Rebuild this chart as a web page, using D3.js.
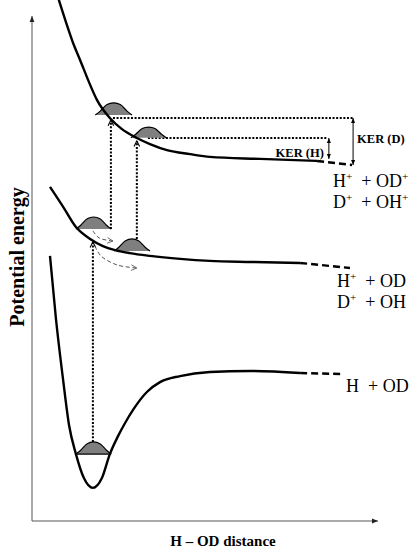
<!DOCTYPE html>
<html>
<head>
<meta charset="utf-8">
<script src="https://cdn.jsdelivr.net/npm/d3@7"></script>
<style>
  body { margin: 0; background: #fff; }
  svg { display: block; }
</style>
</head>
<body>
<div id="plot-area"><svg></svg></div>
<script>
// potential curves: [distance, energy] in arbitrary units
const groundState = [
    [0.52, 10.50], [0.69, 8.04], [0.90, 5.58], [1.07, 3.80], [1.27, 2.65],
    [1.50, 1.70], [1.76, 1.31], [2.02, 1.70], [2.25, 2.65], [2.49, 3.37],
    [2.69, 3.88], [2.92, 4.40], [3.32, 5.11], [3.70, 5.50], [4.28, 5.74],
    [5.14, 5.90], [6.30, 5.94], [7.75, 5.86]
];
const groundTail = [[7.75, 5.86], [8.99, 5.82]];

const cationState = [
    [0.52, 13.23], [0.90, 12.44], [1.27, 11.64], [1.68, 11.17], [2.05, 10.89],
    [2.40, 10.73], [2.83, 10.61], [3.41, 10.50], [4.28, 10.38], [5.14, 10.30],
    [6.30, 10.26], [7.75, 10.22]
];
const cationTail = [[7.75, 10.22], [9.19, 10.02]];

const dicationState = [
    [0.75, 20.75], [1.01, 19.64], [1.21, 18.85], [1.39, 18.26], [1.62, 17.47],
    [1.88, 16.67], [2.25, 15.96], [2.60, 15.52], [3.03, 15.17], [3.41, 14.93],
    [3.90, 14.69], [4.57, 14.53], [5.14, 14.42], [6.59, 14.34], [8.24, 14.26]
];
const dicationTail = [[8.24, 14.26], [9.25, 14.10]];

// wave packets: centre distance, half width, base energy, height
const packets = [
    {cx: 1.78, hw: 0.51, base: 2.65, h: 0.48, ground: true},
    {cx: 1.78, hw: 0.51, base: 11.56, h: 0.48},
    {cx: 2.89, hw: 0.52, base: 10.69, h: 0.48},
    {cx: 2.36, hw: 0.53, base: 16.08, h: 0.48},
    {cx: 3.37, hw: 0.51, base: 15.18, h: 0.42}
];
const packetProfile = [[-1, 0], [-0.73, 0.32], [-0.36, 0.86], [0, 1], [0.36, 0.86], [0.73, 0.32], [1, 0]];

// vertical transitions (dotted, arrow at the top)
const transitions = [
    {x: 1.76, from: 3.13, to: 11.05},
    {x: 2.28, from: 11.56, to: 15.88},
    {x: 3.03, from: 11.17, to: 15.05}
];
// horizontal dotted levels
const levels = [
    {y: 15.96, from: 2.34, to: 9.28},
    {y: 15.17, from: 3.35, to: 8.55}
];
// kinetic energy release arrows
const kerArrows = [
    {name: 'KER (H)', x: 8.58, top: 15.17, bottom: 14.34},
    {name: 'KER (D)', x: 9.28, top: 15.96, bottom: 14.10}
];
// gray dashed wave packet motion
const motions = [
    [[1.76, 11.49], [1.94, 11.21], [2.34, 11.09]],
    [[1.82, 10.89], [1.99, 10.50], [2.46, 10.14], [3.03, 10.02]]
];

const dicationLabels = ['H^+  + OD^+', 'D^+  + OH^+'];
const cationLabels = ['H^+  + OD', 'D^+  + OH'];
const groundLabels = ['H  + OD'];

const serif = '"Liberation Serif", "Times New Roman", serif';

let svg = d3.select('#plot-area').select('svg')
    .attr('width', 413)
    .attr('height', 554);

let x = d3.scaleLinear().domain([0, 10]).range([32, 378]);
let y = d3.scaleLinear().domain([0, 20]).range([521, 16]);

const line = d3.line()
    .x(function (d) { return x(d[0]); })
    .y(function (d) { return y(d[1]); });

// markers
let defs = svg.append('defs');
defs.append('marker').attr('id', 'axisHead')
    .attr('viewBox', '0 0 10 10').attr('refX', 10).attr('refY', 5)
    .attr('markerUnits', 'userSpaceOnUse')
    .attr('markerWidth', 7).attr('markerHeight', 6).attr('orient', 'auto')
    .append('path').attr('d', 'M0,1L10,5L0,9Z').attr('fill', '#222');
defs.append('marker').attr('id', 'kerHead')
    .attr('viewBox', '0 0 10 10').attr('refX', 10).attr('refY', 5)
    .attr('markerUnits', 'userSpaceOnUse')
    .attr('markerWidth', 6).attr('markerHeight', 5).attr('orient', 'auto-start-reverse')
    .append('path').attr('d', 'M0,1L10,5L0,9Z').attr('fill', '#000');
defs.append('marker').attr('id', 'chev')
    .attr('viewBox', '0 0 10 10').attr('refX', 9).attr('refY', 5)
    .attr('markerUnits', 'userSpaceOnUse')
    .attr('markerWidth', 7).attr('markerHeight', 8).attr('orient', 'auto')
    .append('path').attr('d', 'M1,1L9,5L1,9').attr('fill', 'none')
    .attr('stroke', '#000').attr('stroke-width', 1.6);
defs.append('marker').attr('id', 'grayChev')
    .attr('viewBox', '0 0 10 10').attr('refX', 9).attr('refY', 5)
    .attr('markerUnits', 'userSpaceOnUse')
    .attr('markerWidth', 7).attr('markerHeight', 7).attr('orient', 'auto')
    .append('path').attr('d', 'M1,1L9,5L1,9').attr('fill', 'none')
    .attr('stroke', '#555').attr('stroke-width', 1.2);

// axes
svg.append('line')
    .attr('x1', x(0)).attr('y1', y(0)).attr('x2', x(0)).attr('y2', y(20))
    .attr('stroke', '#555').attr('stroke-width', 1)
    .attr('marker-end', 'url(#axisHead)');
svg.append('line')
    .attr('x1', x(0)).attr('y1', y(0)).attr('x2', x(10)).attr('y2', y(0))
    .attr('stroke', '#555').attr('stroke-width', 1)
    .attr('marker-end', 'url(#axisHead)');

// dotted levels and transitions
svg.selectAll('.level')
    .data(levels)
    .enter().append('line')
    .attr('class', 'level')
    .attr('x1', function (d) { return x(d.from); })
    .attr('x2', function (d) { return x(d.to); })
    .attr('y1', function (d) { return y(d.y); })
    .attr('y2', function (d) { return y(d.y); })
    .attr('stroke', '#000').attr('stroke-width', 2)
    .attr('stroke-dasharray', '2,1.6');

svg.selectAll('.transition')
    .data(transitions)
    .enter().append('line')
    .attr('class', 'transition')
    .attr('x1', function (d) { return x(d.x); })
    .attr('x2', function (d) { return x(d.x); })
    .attr('y1', function (d) { return y(d.from); })
    .attr('y2', function (d) { return y(d.to); })
    .attr('stroke', '#000').attr('stroke-width', 2)
    .attr('stroke-dasharray', '2,1.6')
    .attr('marker-end', 'url(#chev)');

// wave packets
const packetLine = d3.line()
    .x(function (d) { return d[0]; })
    .y(function (d) { return d[1]; })
    .curve(d3.curveCatmullRom);

packets.forEach(function (p) {
    const pts = packetProfile.map(function (q) {
        return [x(p.cx + q[0] * p.hw), y(p.base + q[1] * p.h)];
    });
    svg.append('path')
        .attr('d', packetLine(pts) + 'Z')
        .attr('fill', '#7f7f7f')
        .attr('stroke', 'none');
    svg.append('path')
        .attr('d', packetLine(pts))
        .attr('fill', 'none')
        .attr('stroke', '#000')
        .attr('stroke-width', 1.2);
    if (p.ground) {
        svg.append('line')
            .attr('x1', pts[0][0]).attr('x2', pts[pts.length - 1][0])
            .attr('y1', pts[0][1]).attr('y2', pts[0][1])
            .attr('stroke', '#000').attr('stroke-width', 1.2);
    }
});

// potential curves
const smooth = d3.line()
    .x(function (d) { return x(d[0]); })
    .y(function (d) { return y(d[1]); })
    .curve(d3.curveMonotoneX);

[groundState, cationState, dicationState].forEach(function (c) {
    svg.append('path')
        .datum(c)
        .attr('d', smooth)
        .attr('fill', 'none')
        .attr('stroke', '#000')
        .attr('stroke-width', 2.4);
});
[groundTail, cationTail, dicationTail].forEach(function (c) {
    svg.append('path')
        .datum(c)
        .attr('d', line)
        .attr('fill', 'none')
        .attr('stroke', '#000')
        .attr('stroke-width', 2.4)
        .attr('stroke-dasharray', '7,4');
});

// gray dashed packet motion
motions.forEach(function (m) {
    svg.append('path')
        .datum(m)
        .attr('d', line.curve(d3.curveCatmullRom))
        .attr('fill', 'none')
        .attr('stroke', '#555')
        .attr('stroke-width', 1)
        .attr('stroke-dasharray', '4,2.5')
        .attr('marker-end', 'url(#grayChev)');
});
line.curve(d3.curveLinear);

// KER arrows
svg.selectAll('.ker')
    .data(kerArrows)
    .enter().append('line')
    .attr('class', 'ker')
    .attr('x1', function (d) { return x(d.x); })
    .attr('x2', function (d) { return x(d.x); })
    .attr('y1', function (d) { return y(d.top); })
    .attr('y2', function (d) { return y(d.bottom); })
    .attr('stroke', '#000').attr('stroke-width', 1)
    .attr('marker-start', 'url(#kerHead)')
    .attr('marker-end', 'url(#kerHead)');

svg.append('text')
    .attr('x', x(kerArrows[0].x) - 5)
    .attr('y', y(kerArrows[0].bottom) - 2)
    .attr('text-anchor', 'end')
    .attr('font-family', serif).attr('font-weight', 'bold').attr('font-size', '12.5px')
    .text(kerArrows[0].name);
svg.append('text')
    .attr('x', x(kerArrows[1].x) + 4)
    .attr('y', y(kerArrows[1].top) + 25)
    .attr('text-anchor', 'start')
    .attr('font-family', serif).attr('font-weight', 'bold').attr('font-size', '12.5px')
    .text(kerArrows[1].name);

// fragment labels with superscripts
function richText(xp, yp, str, fs) {
    let t = svg.append('text')
        .attr('x', xp).attr('y', yp)
        .attr('font-family', serif).attr('font-size', fs + 'px')
        .attr('xml:space', 'preserve')
        .style('white-space', 'pre');
    let shifted = false;
    str.split(/(\^.)/).filter(function (s) { return s.length; }).forEach(function (s) {
        if (s[0] === '^') {
            t.append('tspan').text(s.slice(1))
                .attr('font-size', (fs * 0.62) + 'px')
                .attr('dy', -0.38 * fs);
            shifted = true;
        } else {
            let ts = t.append('tspan').text(s);
            if (shifted) { ts.attr('dy', 0.38 * fs); shifted = false; }
        }
    });
}

const dEnd = dicationTail[1], cEnd = cationTail[1], gEnd = groundTail[1];
dicationLabels.forEach(function (s, i) {
    richText(x(dEnd[0]) - 19, y(dEnd[1]) + 22 + i * 21, s, 18);
});
cationLabels.forEach(function (s, i) {
    richText(x(cEnd[0]) - 13, y(cEnd[1]) + 19 + i * 21, s, 18);
});
groundLabels.forEach(function (s, i) {
    richText(x(gEnd[0]) + 3, y(gEnd[1]) + 18 + i * 21, s, 18);
});

// axis titles
svg.append('text')
    .attr('transform', 'translate(24,257) rotate(-90)')
    .attr('text-anchor', 'middle')
    .attr('font-family', serif).attr('font-weight', 'bold').attr('font-size', '20px')
    .text('Potential energy');
svg.append('text')
    .attr('x', 223).attr('y', 546)
    .attr('text-anchor', 'middle')
    .attr('font-family', serif).attr('font-weight', 'bold').attr('font-size', '15px')
    .text('H \u2013 OD distance');
</script>
</body>
</html>
